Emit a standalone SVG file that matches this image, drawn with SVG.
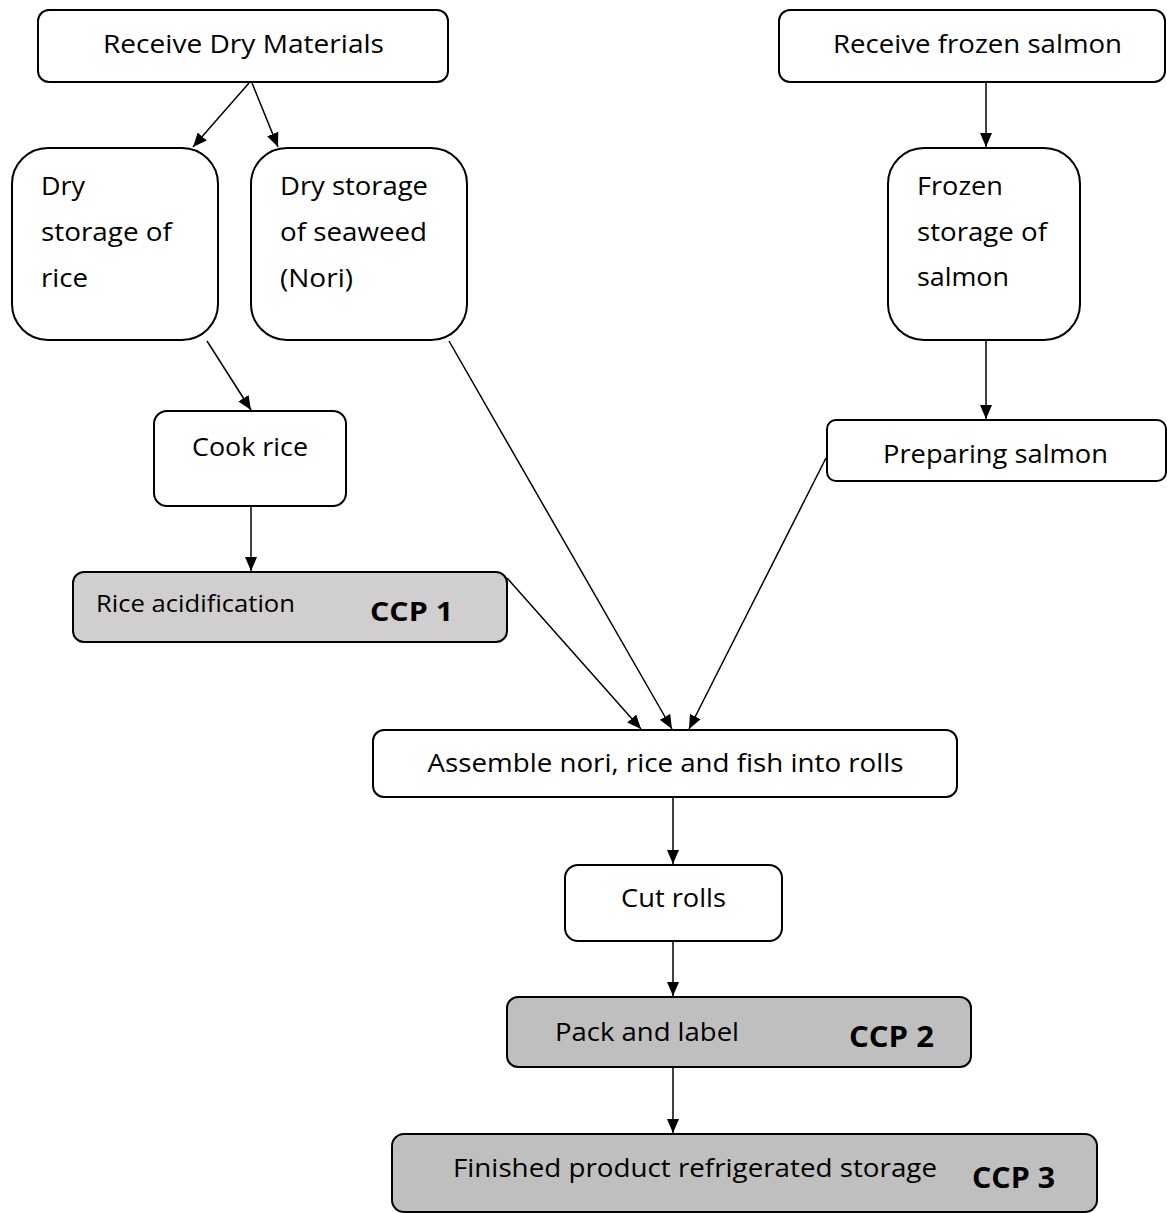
<svg xmlns="http://www.w3.org/2000/svg" width="1167" height="1213" viewBox="0 0 1167 1213">
<style>
.box{fill:#fff;stroke:#000;stroke-width:2}
.ccpA{fill:#d0cece;stroke:#000;stroke-width:2}
.ccpB{fill:#bfbfbf;stroke:#000;stroke-width:2}
text{font-family:"Open Sans","Noto Sans",sans-serif;font-size:26px;fill:#000}
.sm{font-size:24px}
.b{font-weight:bold;font-size:28px}
.c{text-anchor:middle}
.ln{stroke:#000;stroke-width:1.5;fill:none;marker-end:url(#ah)}
</style>
<defs>
<marker id="ah" viewBox="0 0 14 12" refX="14" refY="6" markerWidth="14" markerHeight="12" markerUnits="userSpaceOnUse" orient="auto">
<path d="M0,0 L14,6 L0,12 Z" fill="#000"/>
</marker>
</defs>
<g id="connectors">
<line class="ln" x1="249" y1="83" x2="193" y2="147"/>
<line class="ln" x1="252" y1="83" x2="278" y2="147"/>
<line class="ln" x1="986" y1="82" x2="986" y2="147"/>
<line class="ln" x1="986" y1="341" x2="986" y2="419"/>
<line class="ln" x1="207" y1="341" x2="251" y2="410"/>
<line class="ln" x1="251" y1="507" x2="251" y2="571"/>
<line class="ln" x1="507" y1="578" x2="641" y2="729"/>
<line class="ln" x1="449" y1="341" x2="672" y2="729"/>
<line class="ln" x1="826" y1="458" x2="689" y2="729"/>
<line class="ln" x1="673" y1="798" x2="673" y2="864"/>
<line class="ln" x1="673" y1="942" x2="673" y2="996"/>
<line class="ln" x1="673" y1="1068" x2="673" y2="1133"/>
</g>
<g id="receive-dry">
<rect class="box" x="38" y="10" width="410" height="72" rx="11"/>
<text class="c" x="243.5" y="53" textLength="281" lengthAdjust="spacingAndGlyphs">Receive Dry Materials</text>
</g>
<g id="receive-salmon">
<rect class="box" x="779" y="10" width="386" height="72" rx="11"/>
<text class="c" x="977.5" y="53" textLength="289" lengthAdjust="spacingAndGlyphs">Receive frozen salmon</text>
</g>
<g id="dry-rice">
<rect class="box" x="12" y="148" width="206" height="192" rx="36"/>
<text x="41" y="195" textLength="44" lengthAdjust="spacingAndGlyphs">Dry</text>
<text x="41" y="241" textLength="131" lengthAdjust="spacingAndGlyphs">storage of</text>
<text x="41" y="287" textLength="47" lengthAdjust="spacingAndGlyphs">rice</text>
</g>
<g id="dry-nori">
<rect class="box" x="251" y="148" width="216" height="192" rx="36"/>
<text x="280" y="195" textLength="148" lengthAdjust="spacingAndGlyphs">Dry storage</text>
<text x="280" y="241" textLength="147" lengthAdjust="spacingAndGlyphs">of seaweed</text>
<text x="280" y="287" textLength="73" lengthAdjust="spacingAndGlyphs">(Nori)</text>
</g>
<g id="frozen-storage">
<rect class="box" x="888" y="148" width="192" height="192" rx="36"/>
<text x="917" y="195" textLength="86" lengthAdjust="spacingAndGlyphs">Frozen</text>
<text x="917" y="241" textLength="130" lengthAdjust="spacingAndGlyphs">storage of</text>
<text x="917" y="286" textLength="92" lengthAdjust="spacingAndGlyphs">salmon</text>
</g>
<g id="preparing-salmon">
<rect class="box" x="827" y="420" width="339" height="61" rx="9"/>
<text class="c" x="995.5" y="463" textLength="225" lengthAdjust="spacingAndGlyphs">Preparing salmon</text>
</g>
<g id="cook-rice">
<rect class="box" x="154" y="411" width="192" height="95" rx="13"/>
<text class="c" x="250" y="456" textLength="116" lengthAdjust="spacingAndGlyphs">Cook rice</text>
</g>
<g id="rice-acidification">
<rect class="ccpA" x="73" y="572" width="434" height="70" rx="11"/>
<text class="sm" x="96" y="612" textLength="199" lengthAdjust="spacingAndGlyphs">Rice acidification</text>
<text class="b" x="370" y="621" textLength="83" lengthAdjust="spacingAndGlyphs" style="font-size:26px">CCP 1</text>
</g>
<g id="assemble">
<rect class="box" x="373" y="730" width="584" height="67" rx="11"/>
<text class="c" x="665.5" y="772" textLength="476" lengthAdjust="spacingAndGlyphs">Assemble nori, rice and fish into rolls</text>
</g>
<g id="cut-rolls">
<rect class="box" x="565" y="865" width="217" height="76" rx="13"/>
<text class="c" x="673.5" y="907" textLength="105" lengthAdjust="spacingAndGlyphs">Cut rolls</text>
</g>
<g id="pack-label">
<rect class="ccpB" x="507" y="997" width="464" height="70" rx="11"/>
<text x="555" y="1041" textLength="184" lengthAdjust="spacingAndGlyphs">Pack and label</text>
<text class="b" x="849" y="1047" textLength="85" lengthAdjust="spacingAndGlyphs">CCP 2</text>
</g>
<g id="finished-storage">
<rect class="ccpB" x="392" y="1134" width="705" height="78" rx="12"/>
<text x="453" y="1177" textLength="484" lengthAdjust="spacingAndGlyphs">Finished product refrigerated storage</text>
<text class="b" x="972" y="1188" textLength="83" lengthAdjust="spacingAndGlyphs">CCP 3</text>
</g>
</svg>
